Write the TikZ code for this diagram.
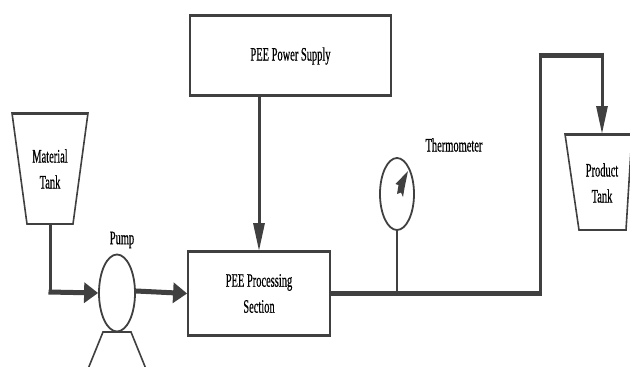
\documentclass[tikz,border=0pt]{standalone}
\usepackage{fontspec}
\setmainfont[FakeBold=0.7]{Liberation Serif}
\usetikzlibrary{arrows.meta,shapes.geometric}
\definecolor{ink}{HTML}{404040}
\tikzset{
  x=1pt,y=-1pt,
  box/.style={draw=ink,line width=1.8pt,rectangle,inner sep=0pt,fill=white},
  round/.style={draw=ink,line width=1.8pt,ellipse,inner sep=0pt,fill=white},
  lbl/.style={text=black,font=\fontsize{19}{26}\selectfont,align=center,xscale=.55,transform shape,inner sep=0pt},
  tank/.style={draw=ink,line width=1.6pt,line join=miter},
  edge/.style={draw=ink,line width=3pt,line cap=square},
  pipe/.style={draw=ink,line width=3pt},
  heavy/.style={draw=ink,line width=5pt},
  tiph/.style={-{Triangle[length=14pt,width=20pt]}},
  tipv/.style={-{Triangle[length=28pt,width=11pt]}},
}
\begin{document}
\begin{tikzpicture}
\useasboundingbox (0,0) rectangle (630,367);
\clip (0,0) rectangle (630,367);
\fill[white] (0,0) rectangle (630,367);
% tanks
\draw[tank] (12,113) -- (88,113) -- (73,224) -- (27,224) -- cycle;
\draw[tank] (565,134) -- (632,134) -- (626,230) -- (579,230) -- cycle;
\draw[tank,line width=3pt] (12,113) -- (88,113);
\draw[tank,line width=2.6pt] (27,224) -- (73,224);
\draw[tank,line width=3pt] (565,134) -- (632,134);
\draw[tank,line width=2.6pt] (579,230) -- (626,230);
\coordinate (matout) at (50,224);
\coordinate (prodin) at (602,134);
\node[lbl] (mat) at (50,169) {Material\\Tank};
\node[lbl] (prod) at (602,183) {Product\\Tank};
% pump
\draw[tank] (88,369) -- (103,332) -- (131,332) -- (146,369);
\node[round,minimum width=36pt,minimum height=77pt] (pump) at (117,293) {};
\node[lbl] (pumpl) at (122,240) {Pump};
% boxes
\node[box,minimum width=142pt,minimum height=83pt] (proc) at (259,293.5) {};
\draw[edge] (proc.north west) -- (proc.north east);
\draw[edge] (proc.south west) -- (proc.south east);
\node[lbl] at (proc) (procl) {PEE Processing\\Section};
\node[box,minimum width=201pt,minimum height=79pt] (pow) at (290.5,55.5) {};
\draw[edge] (pow.north west) -- (pow.north east);
\draw[edge] (pow.south west) -- (pow.south east);
\node[lbl] (powl) at (290.5,56) {PEE Power Supply};
% thermometer
\node[round,minimum width=34pt,minimum height=72pt] (th) at (397,194) {};
\node[lbl] (thl) at (454,145) {Thermometer};
\fill[ink] (408,171) -- (395.5,184) -- (398.5,185) -- (397,194) -- (401,192.5) -- (403,197) -- (404.5,188) -- cycle;
% connectors
\coordinate (j1) at (50,292);
\coordinate (pipeout) at (330,293);
\coordinate (tee) at (397,293);
\coordinate (c1) at (540,293);
\coordinate (c2) at (540,55);
\coordinate (c3) at (602,55);
\draw[pipe] (matout) -- (j1);
\draw[heavy,tiph] (48.5,292) -- (pump.west);
\draw[heavy,tiph] (pump.east) ++(0,-2) -- (proc.west);
\draw[pipe,tipv] (pow.south -| proc.north) -- (proc.north);
\draw[pipe,line width=2.2pt] (th.south) -- (tee);
\draw[heavy] (pipeout) -- (c1);
\draw[pipe] (c1) ++(0,2.5) -- (c2);
\draw[heavy] (538.5,55) -- (c3);
\draw[pipe,tipv] (c3) ++(0,-2.5) -- (prodin);
\end{tikzpicture}
\end{document}
